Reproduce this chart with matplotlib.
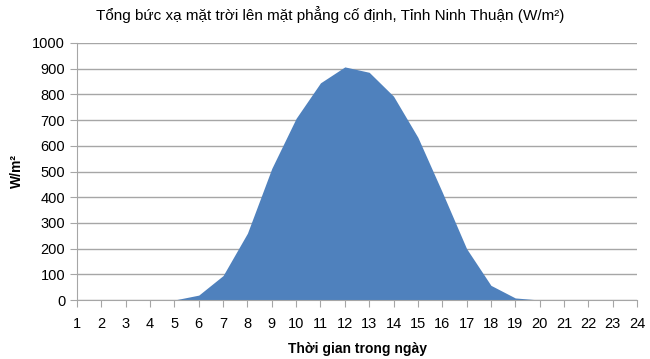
import numpy as np
import matplotlib.pyplot as plt

plt.rcParams['font.family'] = ['Liberation Sans', 'DejaVu Sans']

hours = list(range(1, 25))
irradiance = [0, 0, 0, 0, 0, 19, 95, 260, 512, 707, 845, 907, 886, 793, 633, 420, 200, 57, 8, 0, 0, 0, 0, 0]
y_ticks = list(range(0, 1001, 100))

fig = plt.figure(figsize=(6.5, 3.59), dpi=100)
ax = fig.add_axes([77 / 650, 59 / 359, 560 / 650, 257 / 359])

ax.fill_between(hours, irradiance, 0, color='#4F81BD', linewidth=0, zorder=2)

ax.set_xlim(1, 24)
ax.set_ylim(0, 1000)
ax.set_xticks(hours)
ax.set_yticks(y_ticks)
ax.grid(axis='y', color='#A6A6A6', linewidth=1, zorder=1)
ax.set_axisbelow(True)

for s in ['top', 'right']:
    ax.spines[s].set_visible(False)
for s in ['left', 'bottom']:
    ax.spines[s].set_color('#A6A6A6')
    ax.spines[s].set_zorder(3)
ax.tick_params(axis='both', direction='out', length=5, color='#A6A6A6',
               labelsize=10.5, labelcolor='black')
ax.tick_params(axis='x', pad=7)

ax.set_xlabel('Thời gian trong ngày', fontsize=10, fontweight='bold', labelpad=8)
ax.set_ylabel('W/m²', fontsize=10, fontweight='bold', labelpad=6)
fig.text(0.508, 0.96, 'Tổng bức xạ mặt trời lên mặt phẳng cố định, Tỉnh Ninh Thuận (W/m²)',
         ha='center', va='center', fontsize=11)

fig.savefig('out.png', dpi=100)
